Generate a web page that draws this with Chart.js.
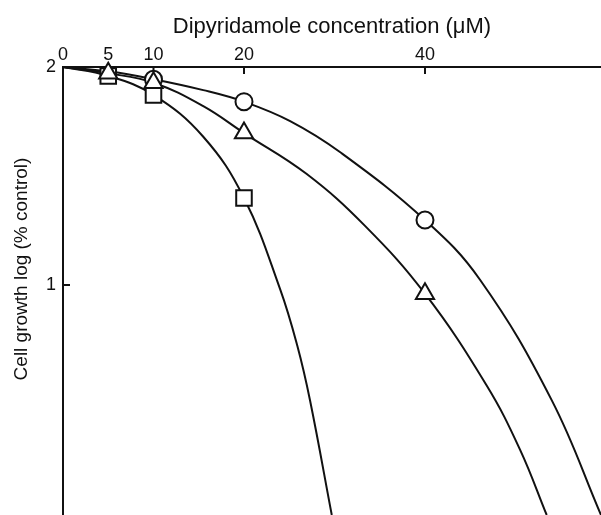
<!DOCTYPE html>
<html>
<head>
<meta charset="utf-8">
<script src="https://cdn.jsdelivr.net/npm/chart.js@4"></script>
<style>
  body { margin: 0; background: #fff; }
  canvas { display: block; }
</style>
</head>
<body>
<canvas id="myChart" width="601" height="515"></canvas>
<script>
const xTitle = 'Dipyridamole concentration (\u03bcM)';
const yTitle = 'Cell growth log (% control)';
const xTickValues = [0, 5, 10, 20, 40];
const yTickValues = [1, 2];

// measured points
const circleX = [10, 20, 40];
const circleY = [1.944, 1.841, 1.298];
const triangleX = [5, 10, 20, 40];
const triangleY = [1.971, 1.928, 1.697, 0.96];
const squareX = [5, 10, 20];
const squareY = [1.959, 1.872, 1.399];

// fitted curves
const circleCurveX = [0, 5, 10, 15.5, 20, 25.1, 30.6, 40, 46.1, 54.0, 59.45];
const circleCurveY = [2, 1.98, 1.944, 1.894, 1.841, 1.752, 1.61, 1.298, 1.023, 0.472, -0.055];
const triangleCurveX = [0, 5, 10, 15.5, 20, 26.9, 33.4, 40, 46.8, 50.5, 53.45];
const triangleCurveY = [2, 1.971, 1.928, 1.82, 1.697, 1.51, 1.27, 0.96, 0.54, 0.245, -0.055];
const squareCurveX = [0, 5, 10, 15.5, 20, 24, 25.9, 27.3, 29.7];
const squareCurveY = [2, 1.959, 1.872, 1.68, 1.399, 0.98, 0.72, 0.47, -0.055];

const ink = '#111';
const fontFamily = '"Liberation Sans", Arial, Helvetica, sans-serif';

function pts(xs, ys) {
  return xs.map((x, i) => ({ x: x, y: ys[i] }));
}

function curve(xs, ys) {
  return {
    type: 'line',
    data: pts(xs, ys),
    borderColor: ink,
    borderWidth: 2,
    pointRadius: 0,
    fill: false,
    tension: 0.4,
    order: 3
  };
}

function markers(xs, ys, style, radius, order) {
  return {
    type: 'scatter',
    data: pts(xs, ys),
    pointStyle: style,
    pointRadius: radius,
    pointBackgroundColor: '#fff',
    pointBorderColor: ink,
    pointBorderWidth: 2,
    showLine: false,
    clip: false,
    order: order
  };
}

const insideTicks = {
  id: 'insideTicks',
  beforeDatasetsDraw(chart) {
    const ctx = chart.ctx;
    const area = chart.chartArea;
    ctx.save();
    ctx.strokeStyle = ink;
    ctx.lineWidth = 2;
    xTickValues.forEach(v => {
      const px = chart.scales.x.getPixelForValue(v);
      ctx.beginPath();
      ctx.moveTo(px, area.top);
      ctx.lineTo(px, area.top + 7);
      ctx.stroke();
    });
    yTickValues.forEach(v => {
      const py = chart.scales.y.getPixelForValue(v);
      ctx.beginPath();
      ctx.moveTo(area.left, py);
      ctx.lineTo(area.left + 7, py);
      ctx.stroke();
    });
    ctx.restore();
  }
};

const yTitlePlugin = {
  id: 'yTitle',
  afterDraw(chart) {
    const ctx = chart.ctx;
    ctx.save();
    ctx.translate(22, 269);
    ctx.rotate(-Math.PI / 2);
    ctx.font = '19px ' + fontFamily;
    ctx.fillStyle = ink;
    ctx.textAlign = 'center';
    ctx.textBaseline = 'middle';
    ctx.fillText(yTitle, 0, 0);
    ctx.restore();
  }
};

new Chart(document.getElementById('myChart'), {
  data: {
    datasets: [
      curve(circleCurveX, circleCurveY),
      curve(triangleCurveX, triangleCurveY),
      curve(squareCurveX, squareCurveY),
      markers(triangleX, triangleY, 'triangle', 10.5, 0),
      markers(squareX, squareY, 'rect', 11, 1),
      markers(circleX, circleY, 'circle', 8.5, 2)
    ]
  },
  options: {
    responsive: false,
    animation: false,
    layout: { padding: 0, autoPadding: false },
    plugins: {
      legend: { display: false },
      tooltip: { enabled: false }
    },
    scales: {
      x: {
        type: 'linear',
        position: 'top',
        min: 0,
        max: 59.45,
        afterBuildTicks: scale => {
          scale.ticks = xTickValues.map(v => ({ value: v }));
        },
        afterFit: scale => {
          scale.height = 67;
          scale.paddingLeft = 0;
          scale.paddingRight = 0;
        },
        grid: { drawOnChartArea: false, drawTicks: false },
        border: { color: ink, width: 2 },
        ticks: {
          color: ink,
          padding: 1,
          maxRotation: 0,
          autoSkip: false,
          font: { family: fontFamily, size: 18 }
        },
        title: {
          display: true,
          text: xTitle,
          color: ink,
          padding: { top: 14, bottom: 0 },
          font: { family: fontFamily, size: 22 }
        }
      },
      y: {
        type: 'linear',
        min: -0.055,
        max: 2,
        afterBuildTicks: scale => {
          scale.ticks = yTickValues.map(v => ({ value: v }));
        },
        afterFit: scale => {
          scale.width = 63;
          scale.paddingTop = 0;
          scale.paddingBottom = 0;
        },
        grid: { drawOnChartArea: false, drawTicks: false },
        border: { color: ink, width: 2 },
        ticks: {
          color: ink,
          padding: 7,
          font: { family: fontFamily, size: 18 }
        }
      }
    }
  },
  plugins: [insideTicks, yTitlePlugin]
});
</script>
</body>
</html>
